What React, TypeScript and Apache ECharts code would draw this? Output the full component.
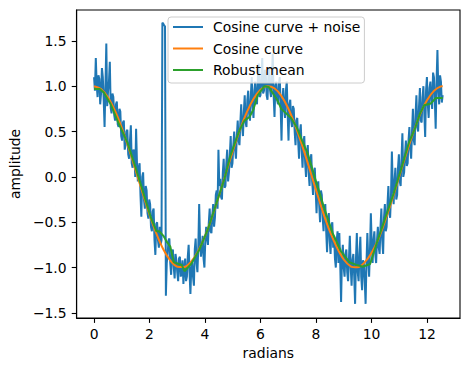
import React, { useEffect, useRef } from "react";
import * as echarts from "echarts";

// Noisy samples (evenly spaced from 0 to 4π)
const noisyStart = 0;
const noisyEnd = 12.566;
const noisyValues: number[] = [
  1.10, 0.95, 1.31, 1.02, 0.88, 1.12, 1.08, 0.80, 0.92, 1.20, 1.10, 0.85, 0.55, 1.00, 1.47, 0.78, 0.95, 1.05, 1.27, 0.76,
  0.70, 0.92, 0.88, 0.68, 0.62, 0.80, 0.83, 0.58, 0.55, 0.75, 0.72, 0.45, 0.40, 0.60, 0.62, 0.30, 0.35, 0.50, 0.52, 0.25,
  0.20, 0.40, 0.57, 0.15, 0.10, 0.30, 0.28, 0.00, 0.53, 0.15, -0.05, 0.10, 0.15, -0.20, -0.44, 0.00, 0.05, -0.25, -0.35, -0.10,
  -0.15, -0.40, -0.46, -0.25, -0.30, -0.55, -0.60, -0.38, -0.35, -0.70, -0.86, -0.52, -0.50, -0.70, -0.78, -0.55, -0.75, -0.70, 1.70, 1.69,
  1.67, 1.66, -1.31, -0.95, -0.85, -0.70, -0.68, -0.95, -1.08, -0.85, -0.80, -1.00, -1.12, -0.85, -0.92, -1.05, -1.15, -0.90, -0.88, -1.10,
  -1.05, -0.92, -1.18, -1.02, -0.90, -1.15, -1.10, -0.88, -0.75, -1.05, -1.29, -1.00, -0.95, -1.10, -1.20, -0.80, -0.68, -0.95, -1.05, -0.78,
  -0.30, -0.70, -0.88, -0.78, -0.65, -0.90, -1.00, -0.70, -0.55, -0.68, -0.75, -0.50, -0.35, -0.60, -0.62, -0.42, -0.30, -0.55, -0.45, -0.20,
  -0.15, -0.35, 0.30, -0.10, -0.02, -0.22, -0.25, 0.05, 0.20, -0.12, -0.10, 0.15, 0.30, -0.05, 0.05, 0.25, 0.45, 0.10, 0.15, 0.35,
  0.50, 0.30, 0.20, 0.45, 0.62, 0.40, 0.35, 0.60, 0.80, 0.55, 0.45, 0.72, 0.90, 0.60, 0.55, 0.85, 0.95, 0.70, 0.62, 0.90,
  1.10, 0.78, 0.65, 0.95, 1.05, 0.85, 0.80, 1.08, 1.25, 0.88, 0.90, 1.10, 1.31, 0.92, 0.95, 1.18, 1.15, 0.90, 0.85, 1.12,
  1.20, 0.95, 0.88, 1.10, 1.36, 0.90, 0.66, 1.00, 1.05, 0.85, 0.80, 1.02, 1.10, 0.78, 0.40, 0.85, 0.98, 0.75, 0.65, 0.95,
  1.05, 0.70, 0.40, 0.80, 0.85, 0.62, 0.55, 0.78, 0.75, 0.50, 0.35, 0.62, 0.65, 0.40, 0.20, 0.50, 0.58, 0.30, 0.10, 0.38,
  0.45, 0.15, 0.00, 0.25, 0.35, 0.05, -0.10, 0.18, 0.25, -0.05, -0.20, 0.05, 0.10, -0.15, -0.40, -0.10, -0.05, -0.30, -0.50, -0.15,
  -0.20, -0.45, -0.60, -0.35, -0.30, -0.60, -0.83, -0.50, -0.40, -0.70, -0.85, -0.55, -0.50, -0.78, -0.65, -0.90, -1.00, -0.70, -0.60, -0.95,
  -0.62, -0.95, -1.38, -0.90, -0.75, -1.00, -1.10, -0.85, -0.80, -1.05, -1.15, -0.90, -0.65, -1.00, -1.20, -0.92, -0.85, -1.10, -1.40, -0.90,
  -0.62, -1.05, -1.15, -0.85, -0.66, -1.10, -1.25, -0.92, -0.95, -1.15, -1.40, -0.95, -0.62, -0.90, -1.10, -0.80, -0.40, -0.75, -0.95, -0.70,
  -0.60, -0.85, -0.95, -0.70, -0.55, -0.78, -0.85, -0.55, -0.35, -0.70, -0.85, -0.45, -0.30, -0.60, -0.55, -0.30, -0.10, -0.40, -0.45, -0.20,
  0.28, -0.10, -0.30, -0.05, 0.10, -0.25, -0.20, 0.10, 0.25, -0.05, -0.10, 0.20, 0.48, 0.00, 0.05, 0.25, 0.40, 0.12, 0.15, 0.40,
  0.55, 0.30, 0.20, 0.50, 0.75, 0.40, 0.35, 0.68, 0.90, 0.55, 0.50, 0.78, 0.98, 0.62, 0.60, 0.88, 1.00, 0.70, 0.44, 0.95,
  1.10, 0.80, 0.65, 0.98, 1.05, 0.85, 0.75, 1.15, 1.10, 0.85, 0.53, 1.05, 1.40, 0.95, 0.80, 1.12, 1.05, 0.82, 0.90,
];

// Cosine curve
const cosX: number[] = [
  0, 0.25, 0.5, 0.75, 1, 1.25, 1.5, 1.75, 2, 2.25, 2.5, 2.75, 3, 3.25, 3.5, 3.75,
  4, 4.25, 4.5, 4.75, 5, 5.25, 5.5, 5.75, 6, 6.25, 6.5, 6.75, 7, 7.25, 7.5, 7.75,
  8, 8.25, 8.5, 8.75, 9, 9.25, 9.5, 9.75, 10, 10.25, 10.5, 10.75, 11, 11.25, 11.5,
  11.75, 12, 12.25, 12.5, 12.566,
];
const cosY: number[] = [
  1.0, 0.969, 0.878, 0.732, 0.540, 0.315, 0.071, -0.178, -0.416, -0.628, -0.801,
  -0.924, -0.990, -0.994, -0.936, -0.820, -0.654, -0.446, -0.211, 0.037, 0.284,
  0.512, 0.709, 0.861, 0.960, 1.0, 0.977, 0.893, 0.754, 0.568, 0.347, 0.105,
  -0.146, -0.388, -0.602, -0.776, -0.911, -0.986, -0.997, -0.943, -0.839, -0.685,
  -0.476, -0.245, 0.004, 0.254, 0.483, 0.690, 0.844, 0.948, 0.998, 1.0,
];

// Robust mean
const robustX: number[] = [
  0, 0.2, 0.35, 0.6, 0.9, 1.2, 1.5, 1.8, 2.05, 2.25, 2.35, 2.5, 2.63, 2.75, 2.87,
  3.05, 3.16, 3.26, 3.5, 3.8, 4.1, 4.4, 4.7, 4.9, 5.07, 5.25, 5.42, 5.6, 5.74, 5.9,
  6.14, 6.3, 6.6, 6.75, 7.1, 7.3, 7.5, 7.7, 8.0, 8.3, 8.6, 8.9, 9.2, 9.45, 9.7,
  9.95, 10.2, 10.5, 10.8, 11.1, 11.35, 11.55, 11.75, 11.9, 12.14, 12.32, 12.566,
];
const robustY: number[] = [
  0.97, 0.97, 0.93, 0.80, 0.58, 0.38, 0.10, -0.20, -0.45, -0.60, -0.60, -0.65,
  -0.72, -0.77, -0.94, -0.96, -0.97, -1.04, -0.96, -0.80, -0.58, -0.30, -0.02,
  0.22, 0.37, 0.52, 0.62, 0.66, 0.74, 0.90, 1.0, 0.99, 0.85, 0.75, 0.65, 0.55,
  0.40, 0.26, -0.05, -0.35, -0.62, -0.82, -0.94, -0.97, -0.99, -0.96, -0.72,
  -0.45, -0.18, 0.12, 0.38, 0.52, 0.70, 0.79, 0.81, 0.87, 0.87,
];

const xTicks = [0, 2, 4, 6, 8, 10, 12];
const yTicks = [-1.5, -1.0, -0.5, 0.0, 0.5, 1.0, 1.5];
const seriesNames = ["Cosine curve + noise", "Cosine curve", "Robust mean"];

const FONT = "DejaVu Sans";
const FS = 13.9;

export default function App() {
  const ref = useRef<HTMLDivElement>(null);
  useEffect(() => {
    if (!ref.current) return;
    const chart = echarts.init(ref.current, null, { renderer: "svg" });
    const n = noisyValues.length;
    const step = (noisyEnd - noisyStart) / (n - 1);
    const noisyData = noisyValues.map((v, i) => [noisyStart + i * step, v]);
    const cosData = cosX.map((x, i) => [x, cosY[i]]);
    const robustData = robustX.map((x, i) => [x, robustY[i]]);
    const fmt = (v: number, d: number) => v.toFixed(d).replace("-", "\u2212");

    chart.setOption({
      animation: false,
      backgroundColor: "#ffffff",
      textStyle: { fontFamily: FONT },
      grid: {
        left: 73,
        top: 10,
        right: 10,
        bottom: 53,
        show: true,
        borderColor: "#000",
        borderWidth: 1.1,
        backgroundColor: "transparent",
      },
      legend: {
        orient: "vertical",
        left: 168,
        top: 17,
        padding: [2, 4, 5, 5],
        itemWidth: 30,
        itemHeight: 2,
        itemGap: 5.5,
        backgroundColor: "rgba(255,255,255,0.8)",
        borderColor: "#cccccc",
        borderWidth: 1,
        borderRadius: 3,
        data: seriesNames.map((name) => ({ name, icon: "rect" })),
        textStyle: {
          fontFamily: FONT,
          fontSize: FS,
          color: "#000",
          lineHeight: 16,
          padding: [0, 0, 0, 5],
        },
      },
      xAxis: {
        type: "value",
        min: -0.628,
        max: 13.19,
        name: "radians",
        nameLocation: "middle",
        nameGap: 27,
        nameTextStyle: { fontFamily: FONT, fontSize: FS, color: "#000" },
        splitLine: { show: false },
        axisLine: { show: true, onZero: false, lineStyle: { color: "#000", width: 1.1 } },
        axisTick: {
          show: true,
          length: 4.9,
          customValues: xTicks,
          lineStyle: { color: "#000", width: 1.1 },
        },
        axisLabel: {
          show: true,
          margin: 9,
          customValues: xTicks,
          fontFamily: FONT,
          fontSize: FS,
          color: "#000",
          formatter: (v: number) => fmt(v, 0),
        },
      },
      yAxis: {
        type: "value",
        min: -1.556,
        max: 1.84,
        name: "amplitude",
        nameLocation: "middle",
        nameGap: 46,
        nameTextStyle: { fontFamily: FONT, fontSize: FS, color: "#000" },
        splitLine: { show: false },
        axisLine: { show: true, onZero: false, lineStyle: { color: "#000", width: 1.1 } },
        axisTick: {
          show: true,
          length: 4.9,
          customValues: yTicks,
          lineStyle: { color: "#000", width: 1.1 },
        },
        axisLabel: {
          show: true,
          margin: 10,
          customValues: yTicks,
          fontFamily: FONT,
          fontSize: FS,
          color: "#000",
          formatter: (v: number) => fmt(v, 1),
        },
      },
      series: [
        {
          name: seriesNames[0],
          type: "line",
          data: noisyData,
          symbol: "none",
          lineStyle: { color: "#1f77b4", width: 2 },
          itemStyle: { color: "#1f77b4" },
        },
        {
          name: seriesNames[1],
          type: "line",
          data: cosData,
          symbol: "none",
          smooth: 0.3,
          lineStyle: { color: "#ff7f0e", width: 2 },
          itemStyle: { color: "#ff7f0e" },
        },
        {
          name: seriesNames[2],
          type: "line",
          data: robustData,
          symbol: "none",
          lineStyle: { color: "#2ca02c", width: 2 },
          itemStyle: { color: "#2ca02c" },
        },
      ],
    });
    return () => chart.dispose();
  }, []);

  return (
    <div
      ref={ref}
      style={{ position: "fixed", left: 0, top: 0, width: 470, height: 371, background: "#fff" }}
    />
  );
}
